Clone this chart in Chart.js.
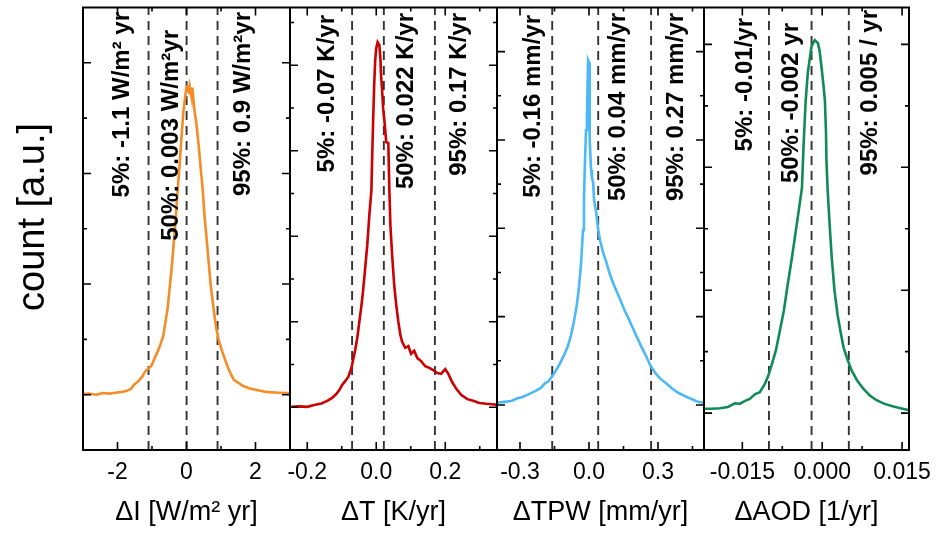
<!DOCTYPE html>
<html>
<head>
<meta charset="utf-8">
<script src="https://cdn.jsdelivr.net/npm/chart.js@4.4.1/dist/chart.umd.min.js"></script>
<style>
  html, body { margin: 0; padding: 0; background: #fff; }
  #wrap { width: 939px; height: 533px; }
</style>
</head>
<body>
<div id="wrap"><canvas id="histChart" width="939" height="533"></canvas></div>
<script>
// histogram values (x in panel units, count in a.u.)
var xI = [-3.0, -2.83, -2.62, -2.42, -2.22, -2.01, -1.87, -1.72, -1.60, -1.52,
  -1.40, -1.28, -1.20, -1.11, -1.02, -0.93, -0.85, -0.76, -0.67, -0.61,
  -0.55, -0.50, -0.44, -0.38, -0.32, -0.26, -0.20, -0.15, -0.09, -0.03,
  0.0, 0.06, 0.09, 0.15, 0.17, 0.23, 0.29, 0.35, 0.41, 0.47,
  0.52, 0.58, 0.64, 0.70, 0.76, 0.82, 0.87, 0.93, 1.02, 1.11,
  1.20, 1.28, 1.37, 1.49, 1.63, 1.84, 2.07, 2.30, 2.57, 2.80, 3.0];
var cI = [0.01, 0.02, 0, 0.03, 0.02, 0.04, 0.05, 0.07, 0.11, 0.18,
  0.24, 0.33, 0.42, 0.47, 0.52, 0.65, 0.76, 0.90, 1.07, 1.32,
  1.54, 1.86, 2.22, 2.66, 3.13, 3.67, 4.16, 4.61, 5.12, 5.42,
  5.55, 5.48, 5.59, 5.37, 5.55, 5.15, 4.88, 4.52, 4.10, 3.71,
  3.25, 2.84, 2.41, 1.99, 1.68, 1.39, 1.18, 1.00, 0.81, 0.65,
  0.49, 0.38, 0.27, 0.22, 0.16, 0.11, 0.08, 0.05, 0.04, 0.03, 0.03];

var xT = [-0.246, -0.223, -0.200, -0.180, -0.159, -0.142, -0.128, -0.116, -0.107, -0.099,
  -0.090, -0.081, -0.072, -0.067, -0.061, -0.055, -0.049, -0.043, -0.038, -0.032,
  -0.026, -0.020, -0.014, -0.012, -0.009, -0.006, -0.003, 0.000, 0.004, 0.009,
  0.012, 0.014, 0.017, 0.020, 0.023, 0.026, 0.029, 0.035, 0.038, 0.041,
  0.046, 0.052, 0.058, 0.064, 0.070, 0.075, 0.084, 0.093, 0.101, 0.110,
  0.119, 0.130, 0.142, 0.154, 0.165, 0.177, 0.188, 0.200, 0.209, 0.220,
  0.232, 0.246, 0.264, 0.281, 0.299, 0.319, 0.336, 0.354];
var cT = [0.01, 0.02, 0.01, 0.05, 0.09, 0.15, 0.22, 0.31, 0.40, 0.52,
  0.61, 0.71, 0.92, 1.11, 1.34, 1.62, 2.00, 2.37, 2.74, 3.26,
  3.79, 4.50, 5.08, 5.79, 6.71, 7.53, 8.12, 8.40, 8.54, 8.47,
  8.16, 7.76, 7.41, 6.99, 6.76, 6.48, 6.20, 6.18, 5.08, 4.26,
  3.56, 2.86, 2.39, 2.00, 1.69, 1.53, 1.39, 1.43, 1.25, 1.32,
  1.15, 1.08, 0.96, 0.92, 0.87, 0.80, 0.78, 0.89, 0.78, 0.59,
  0.43, 0.29, 0.19, 0.15, 0.10, 0.08, 0.07, 0.05];

var xP = [-0.40, -0.368, -0.338, -0.311, -0.289, -0.259, -0.232, -0.211, -0.193, -0.175,
  -0.162, -0.145, -0.127, -0.110, -0.092, -0.079, -0.066, -0.053, -0.044, -0.035,
  -0.026, -0.022, -0.018, -0.013, -0.009, -0.007, -0.004, 0.000, 0.002, 0.004,
  0.009, 0.013, 0.018, 0.022, 0.031, 0.039, 0.048, 0.061, 0.075, 0.088,
  0.101, 0.118, 0.136, 0.154, 0.171, 0.189, 0.206, 0.224, 0.246, 0.268,
  0.289, 0.311, 0.338, 0.364, 0.390, 0.417, 0.443, 0.474, 0.50];
var cP = [0.05, 0.07, 0.09, 0.15, 0.18, 0.25, 0.32, 0.38, 0.48, 0.54,
  0.63, 0.77, 0.93, 1.11, 1.33, 1.56, 1.88, 2.26, 2.65, 3.17,
  3.96, 4.64, 5.43, 6.22, 6.49, 7.01, 7.81, 7.76, 6.90, 6.00,
  5.32, 5.14, 5.05, 4.64, 4.37, 4.00, 3.73, 3.46, 3.24, 3.01,
  2.81, 2.60, 2.38, 2.15, 1.97, 1.76, 1.56, 1.36, 1.13, 0.88,
  0.72, 0.59, 0.48, 0.36, 0.27, 0.20, 0.14, 0.07, 0.05];

var xA = [-0.0222, -0.0207, -0.0192, -0.0177, -0.0164, -0.0155, -0.0145, -0.0136, -0.0126, -0.0117,
  -0.0108, -0.0102, -0.0095, -0.0087, -0.0080, -0.0072, -0.0065, -0.0057, -0.0050, -0.0044,
  -0.0038, -0.0035, -0.0031, -0.0027, -0.0023, -0.0020, -0.0014, -0.0008, -0.0005, -0.0001,
  0.0003, 0.0005, 0.0007, 0.0008, 0.0010, 0.0014, 0.0018, 0.0023, 0.0029, 0.0035,
  0.0040, 0.0048, 0.0055, 0.0065, 0.0076, 0.0089, 0.0102, 0.0117, 0.0132, 0.0147, 0.0162];
var cA = [0.07, 0.07, 0.08, 0.10, 0.16, 0.15, 0.20, 0.23, 0.31, 0.34,
  0.47, 0.59, 0.78, 1.02, 1.32, 1.67, 2.08, 2.52, 2.94, 3.30,
  3.67, 4.36, 5.09, 5.54, 5.79, 5.97, 6.07, 6.02, 5.90, 5.61,
  5.28, 5.09, 4.60, 4.11, 3.67, 3.06, 2.52, 2.00, 1.59, 1.30,
  1.07, 0.86, 0.70, 0.54, 0.41, 0.29, 0.21, 0.15, 0.11, 0.08, 0.05];

// 5%, 50%, 95% percentiles
var pctI = [-1.1, 0.003, 0.9];
var pctT = [-0.07, 0.022, 0.17];
var pctP = [-0.16, 0.04, 0.27];
var pctA = [-0.01, -0.002, 0.005];

var textI = ['5%: -1.1 W/m\u00b2 yr', '50%: 0.003 W/m\u00b2yr', '95%: 0.9 W/m\u00b2yr'];
var textT = ['5%: -0.07 K/yr', '50%: 0.022 K/yr', '95%: 0.17 K/yr'];
var textP = ['5%: -0.16 mm/yr', '50%: 0.04 mm/yr', '95%: 0.27 mm/yr'];
var textA = ['5%: -0.01/yr', '50%: -0.002 yr', '95%: 0.005 / yr'];

// tick values
var majorI = [-2, 0, 2], minorI = [-1, 1];
var majorT = [-0.2, 0.0, 0.2], minorT = [-0.1, 0.1, 0.3];
var majorP = [-0.3, 0.0, 0.3], minorP = [-0.15, 0.15, 0.45];
var majorA = [-0.015, 0.0, 0.015], minorA = [-0.0075, 0.0075];

var titles = ['\u0394I [W/m\u00b2 yr]', '\u0394T [K/yr]', '\u0394TPW [mm/yr]', '\u0394AOD [1/yr]'];

var panels = [
  {x: xI, c: cI, pct: pctI, text: textI, major: majorI, minor: minorI, dec: 0,
   xmin: -3, xmax: 3, ymin: -1, ymax: 7, yMajor: [0, 2, 4, 6], yMinor: [1, 3, 5],
   color: '#f58c28', weight: 207, dx: [-20, -9, 32], top: [12, 30, 12]},
  {x: xT, c: cT, pct: pctT, text: textT, major: majorT, minor: minorT, dec: 1,
   xmin: -0.25, xmax: 0.35, ymin: -1, ymax: 9.35, yMajor: [0, 2, 4, 6, 8], yMinor: [1, 3, 5, 7, 9],
   color: '#cc0000', weight: 207, dx: [-18, 29, 31], top: [15, 13, 13]},
  {x: xP, c: cP, pct: pctP, text: textP, major: majorP, minor: minorP, dec: 1,
   xmin: -0.4, xmax: 0.5, ymin: -1.02, ymax: 9.0, yMajor: [0, 2, 4, 6, 8], yMinor: [1, 3, 5, 7],
   color: '#4cb9f6', weight: 207, dx: [-12, 27, 32], top: [15, 13, 13]},
  {x: xA, c: cA, pct: pctA, text: textA, major: majorA, minor: minorA, dec: 3,
   xmin: -0.0222, xmax: 0.0163, ymin: -0.6, ymax: 6.6, yMajor: [0, 2, 4, 6], yMinor: [1, 3, 5],
   color: '#108b55', weight: 205, dx: [-17, -14, 28], top: [18, 23, 10]}
];

Chart.defaults.font.family = '"Liberation Sans", Arial, sans-serif';
Chart.defaults.color = '#000';

var datasets = [];
var scales = {};
panels.forEach(function (p, i) {
  datasets.push({
    data: p.x.map(function (v, k) { return {x: v, y: p.c[k]}; }),
    xAxisID: 'x' + i, yAxisID: 'y' + i,
    borderColor: p.color, borderWidth: 2.6, pointRadius: 0, tension: 0, order: 0
  });
  p.pct.forEach(function (v) {
    datasets.push({
      data: [{x: v, y: p.ymin}, {x: v, y: p.ymax}],
      xAxisID: 'x' + i, yAxisID: 'y' + i,
      borderColor: '#333', borderWidth: 1.9, borderDash: [9, 6], pointRadius: 0, order: 1
    });
  });
  scales['x' + i] = {
    type: 'linear', position: 'bottom', stack: 'row', stackWeight: p.weight,
    min: p.xmin, max: p.xmax,
    afterBuildTicks: function (axis) {
      axis.ticks = p.major.map(function (v) { return {value: v}; });
    },
    afterFit: function (axis) {
      // labels may overhang the panel edges, like in the original figure
      axis.paddingLeft = 0;
      axis.paddingRight = 0;
    },
    ticks: {
      autoSkip: false, maxRotation: 0, padding: 9, font: {size: 23},
      callback: function (v) { return Number(v).toFixed(p.dec); }
    },
    grid: {display: false, drawTicks: false},
    border: {display: false},
    title: {display: true, text: titles[i], font: {size: 27}, padding: {top: 1, bottom: 0}}
  };
  scales['y' + i] = {type: 'linear', display: false, min: p.ymin, max: p.ymax};
});

var framePlugin = {
  id: 'frame',
  afterDraw: function (chart) {
    var ctx = chart.ctx, a = chart.chartArea;
    ctx.save();
    ctx.strokeStyle = '#000';
    panels.forEach(function (p, i) {
      var xs = chart.scales['x' + i], ys = chart.scales['y' + i];
      ctx.lineWidth = 1.6;
      ctx.beginPath();
      function xTick(v, len) {
        var px = xs.getPixelForValue(v);
        ctx.moveTo(px, a.bottom); ctx.lineTo(px, a.bottom - len);
        ctx.moveTo(px, a.top); ctx.lineTo(px, a.top + len);
      }
      function yTick(v, len) {
        var py = ys.getPixelForValue(v);
        ctx.moveTo(xs.left, py); ctx.lineTo(xs.left + len, py);
        ctx.moveTo(xs.right, py); ctx.lineTo(xs.right - len, py);
      }
      p.major.forEach(function (v) { xTick(v, 8); });
      p.minor.forEach(function (v) { xTick(v, 4); });
      p.yMajor.forEach(function (v) { yTick(v, 8); });
      p.yMinor.forEach(function (v) { yTick(v, 4); });
      ctx.stroke();
      if (i > 0) {
        ctx.lineWidth = 2;
        ctx.beginPath();
        ctx.moveTo(xs.left, a.top); ctx.lineTo(xs.left, a.bottom);
        ctx.stroke();
      }
      // percentile labels
      ctx.fillStyle = '#000';
      ctx.font = 'bold 24px "Liberation Sans", Arial, sans-serif';
      ctx.textAlign = 'right';
      ctx.textBaseline = 'alphabetic';
      p.pct.forEach(function (v, j) {
        ctx.save();
        ctx.translate(xs.getPixelForValue(v) + p.dx[j], p.top[j]);
        ctx.rotate(-Math.PI / 2);
        ctx.fillText(p.text[j], 0, 0);
        ctx.restore();
      });
    });
    ctx.lineWidth = 2;
    ctx.strokeRect(a.left, a.top, a.right - a.left, a.bottom - a.top);
    // y axis title
    ctx.save();
    ctx.translate(34, 217);
    ctx.rotate(-Math.PI / 2);
    ctx.font = '38px "Liberation Sans", Arial, sans-serif';
    ctx.textAlign = 'center';
    ctx.textBaseline = 'middle';
    ctx.fillText('count [a.u.]', 0, 0);
    ctx.restore();
    ctx.restore();
  }
};

new Chart(document.getElementById('histChart'), {
  type: 'line',
  data: {datasets: datasets},
  options: {
    responsive: false,
    animation: false,
    layout: {padding: {left: 83, right: 30, top: 7.5, bottom: 4}},
    plugins: {legend: {display: false}, tooltip: {enabled: false}},
    scales: scales
  },
  plugins: [framePlugin]
});
</script>
</body>
</html>
